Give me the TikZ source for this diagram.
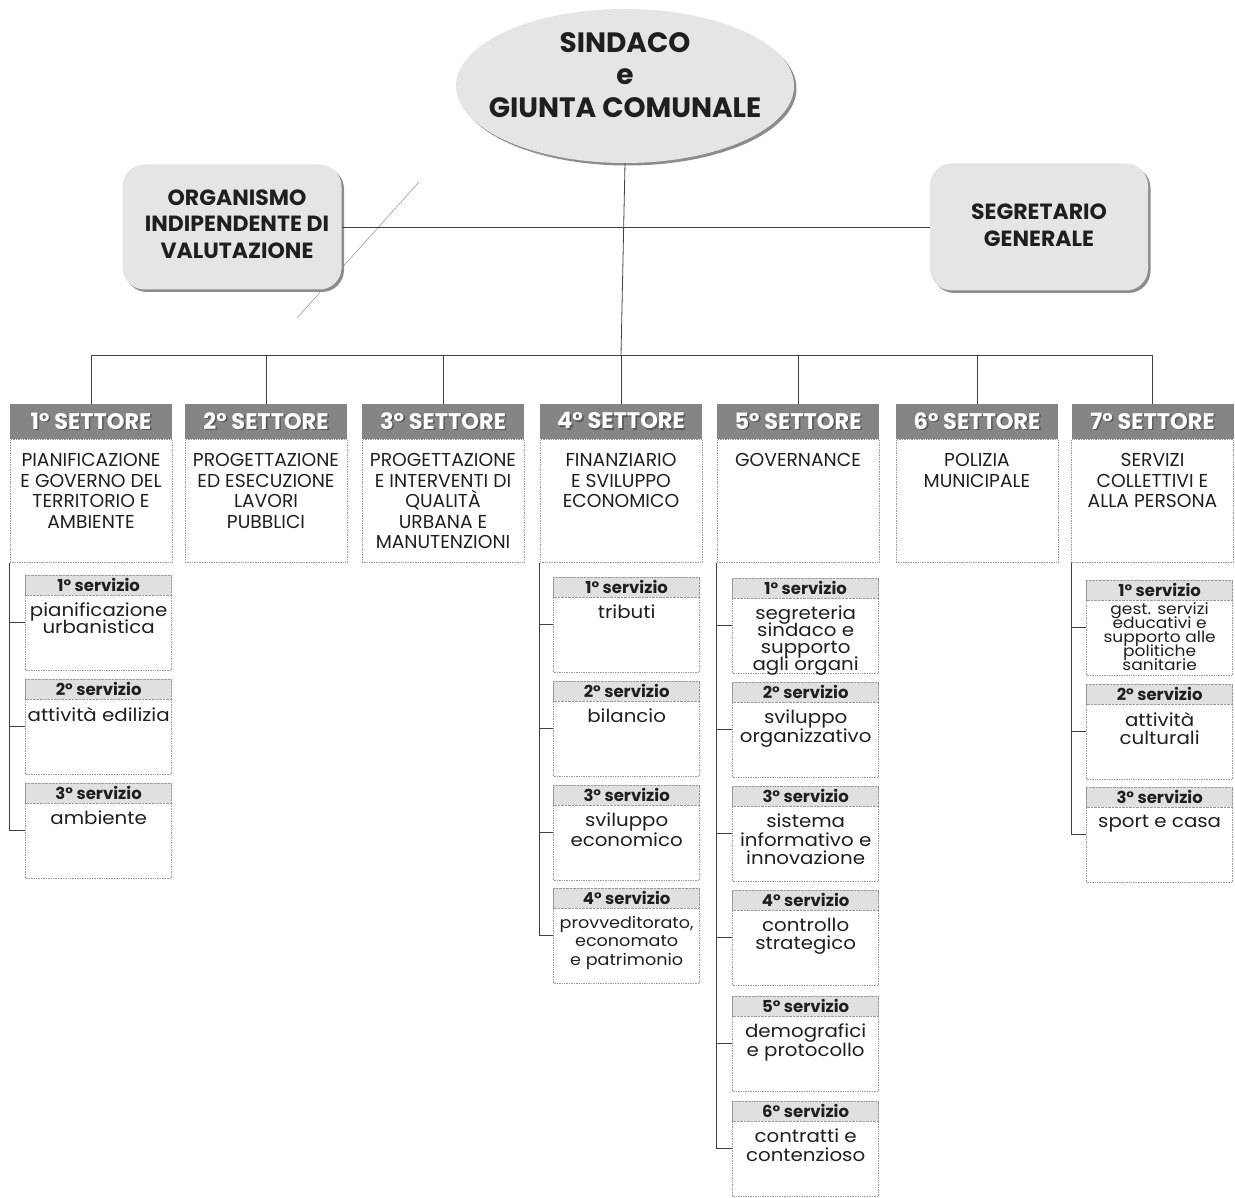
\documentclass[tikz,border=0pt]{standalone}
\usepackage{fontspec}
\setmainfont{Poppins}
\newfontfamily\widefont[FakeStretch=1.1]{Poppins}
\usetikzlibrary{shapes.geometric,shadows}
\definecolor{hdrgray}{gray}{0.52}
\definecolor{boxgray}{gray}{0.90}
\definecolor{shgray}{gray}{0.55}
\definecolor{txt}{gray}{0.12}
\newcommand\shadowed[1]{\makebox[0pt][l]{\hspace{1.6pt}\raisebox{-1.6pt}{\textcolor{black!65}{#1}}}#1}
\newcommand\tightls{\lineskiplimit=-50pt\relax}
\begin{document}
\begin{tikzpicture}[x=1pt,y=-1pt,
  conn/.style={draw=black!75, line width=0.8pt},
  hdr/.style={fill=hdrgray, minimum width=162pt, minimum height=35pt, inner sep=0pt, anchor=north, text=white, font=\bfseries\fontsize{22.5}{24}\selectfont},
  body/.style={draw=black!40, densely dotted, line width=0.7pt, minimum width=162pt, minimum height=123pt, anchor=north, inner sep=0pt},
  btxt/.style={anchor=north, align=center, font=\fontsize{18.7}{20.5}\selectfont\tightls, text=txt, inner sep=0pt},
  svbox/.style={draw=black!40, densely dotted, line width=0.7pt, minimum width=146pt, minimum height=95pt, anchor=north east, inner sep=0pt},
  svh/.style={fill=black!12, draw=black!40, densely dotted, minimum width=146pt, minimum height=20pt, anchor=north, inner sep=0pt, text=txt, font=\bfseries\fontsize{16.5}{18}\selectfont},
  svt/.style={anchor=north, align=center, font=\widefont\fontsize{18}{18.5}\selectfont\tightls, inner sep=0pt, text=txt},
  topbox/.style={fill=boxgray, rounded corners=22pt, inner sep=0pt, drop shadow={shadow xshift=2.5pt, shadow yshift=-2.5pt, fill=shgray, opacity=1}},
  toptxt/.style={align=center, text=txt, inner sep=0pt, font=\bfseries\fontsize{22}{26.5}\selectfont},
]
\useasboundingbox (0,0) rectangle (1235,1198);
\fill[white] (0,0) rectangle (1235,1198);

\newcommand\sect[4]{%
  \node[hdr] (#1h) at (#2,404) {\shadowed{#3° SETTORE}};
  \node[body] (#1b) at (#1h.south) {};
  \node[btxt] (#1t) at ([yshift=-14pt]#1b.north) {#4};
}
\newcommand\serv[6][]{%
  \node[svbox] (#2) at (#3,#4) {};
  \node[svh] (#2h) at (#2.north) {#5° servizio};
  \node[svt,#1] (#2t) at ([yshift=-7.5pt]#2h.south) {#6};
}

% stray diagonal line behind the OIV box
\coordinate (d1) at (419,182);
\coordinate (d2) at (297,318);
\draw[black!45, line width=0.5pt] (d1) -- (d2);

% top
\node[ellipse, fill=boxgray, minimum width=338pt, minimum height=154pt, inner sep=0pt,
  drop shadow={shadow xshift=2.5pt, shadow yshift=-2.5pt, fill=shgray, opacity=1}] (sindaco) at (625,86) {};
\node[toptxt, font=\bfseries\fontsize{28}{32.5}\selectfont] (sindacot) at ([yshift=11pt]sindaco.center)
  {SINDACO\\e\\GIUNTA COMUNALE};

\node[topbox, minimum width=219pt, minimum height=125pt] (oiv) at (232,227) {};
\node[toptxt] (oivt) at ([xshift=5pt,yshift=3pt]oiv.center) {ORGANISMO\\INDIPENDENTE DI\\VALUTAZIONE};
\node[topbox, minimum width=218pt, minimum height=127pt] (segr) at (1039,227) {};
\node[toptxt] (segrt) at ([yshift=2pt]segr.center) {SEGRETARIO\\GENERALE};

\coordinate (bus) at (621,355);
\draw[conn] (oiv.east) -- (oiv.east -| segr.west);
\draw[conn] (sindaco.south) -- (bus);

% sectors
\sect{s1}{91}{1}{PIANIFICAZIONE\\E GOVERNO DEL\\TERRITORIO E\\AMBIENTE}
\sect{s2}{266}{2}{PROGETTAZIONE\\ED ESECUZIONE\\LAVORI\\PUBBLICI}
\sect{s3}{443}{3}{PROGETTAZIONE\\E INTERVENTI DI\\QUALITÀ\\URBANA E\\MANUTENZIONI}
\sect{s4}{621}{4}{FINANZIARIO\\E SVILUPPO\\ECONOMICO}
\sect{s5}{798}{5}{GOVERNANCE}
\sect{s6}{977}{6}{POLIZIA\\MUNICIPALE}
\sect{s7}{1152.5}{7}{SERVIZI\\COLLETTIVI E\\ALLA PERSONA}

\draw[conn] (s1h.north |- bus) -- (s7h.north |- bus);
\foreach \s in {s1,s2,s3,s4,s5,s6,s7}{
  \draw[conn] (\s h.north |- bus) -- (\s h.north);
}

% services sector 1
\serv[font=\widefont\fontsize{18}{17}\selectfont\tightls]{s1a}{172}{575}{1}{pianificazione\\urbanistica}
\serv{s1b2}{172}{679}{2}{attività edilizia}
\serv{s1c}{172}{783}{3}{ambiente}
\foreach \v in {s1a,s1b2,s1c}{\draw[conn] (s1b.south west) |- (\v.west);}

% services sector 4
\serv{s4a}{700}{577}{1}{tributi}
\serv{s4b2}{700}{681}{2}{bilancio}
\serv[font=\widefont\fontsize{18}{19.5}\selectfont\tightls]{s4c}{700}{785}{3}{sviluppo\\economico}
\serv[font=\widefont\fontsize{16}{18.5}\selectfont\tightls]{s4d}{700}{888}{4}{provveditorato,\\economato\\e patrimonio}
\foreach \v in {s4a,s4b2,s4c,s4d}{\draw[conn] (s4b.south west) |- (\v.west);}

% services sector 5
\serv[font=\widefont\fontsize{18}{16.8}\selectfont\tightls]{s5a}{879}{578}{1}{segreteria\\sindaco e\\supporto\\agli organi}
\serv{s5b2}{879}{682}{2}{sviluppo\\organizzativo}
\serv{s5c}{879}{786}{3}{sistema\\informativo e\\innovazione}
\serv{s5d}{879}{890}{4}{controllo\\strategico}
\serv{s5e}{879}{996}{5}{demografici\\e protocollo}
\serv{s5f}{879}{1101}{6}{contratti e\\contenzioso}
\foreach \v in {s5a,s5b2,s5c,s5d,s5e,s5f}{\draw[conn] (s5b.south west) |- (\v.west);}

% services sector 7
\serv[font=\widefont\fontsize{15.5}{14}\selectfont\tightls, yshift=5.5pt]{s7a}{1233}{580}{1}{gest. servizi\\educativi e\\supporto alle\\politiche\\sanitarie}
\serv{s7b2}{1233}{684}{2}{attività\\culturali}
\serv{s7c}{1233}{787}{3}{sport e casa}
\foreach \v in {s7a,s7b2,s7c}{\draw[conn] (s7b.south west) |- (\v.west);}
\end{tikzpicture}
\end{document}
